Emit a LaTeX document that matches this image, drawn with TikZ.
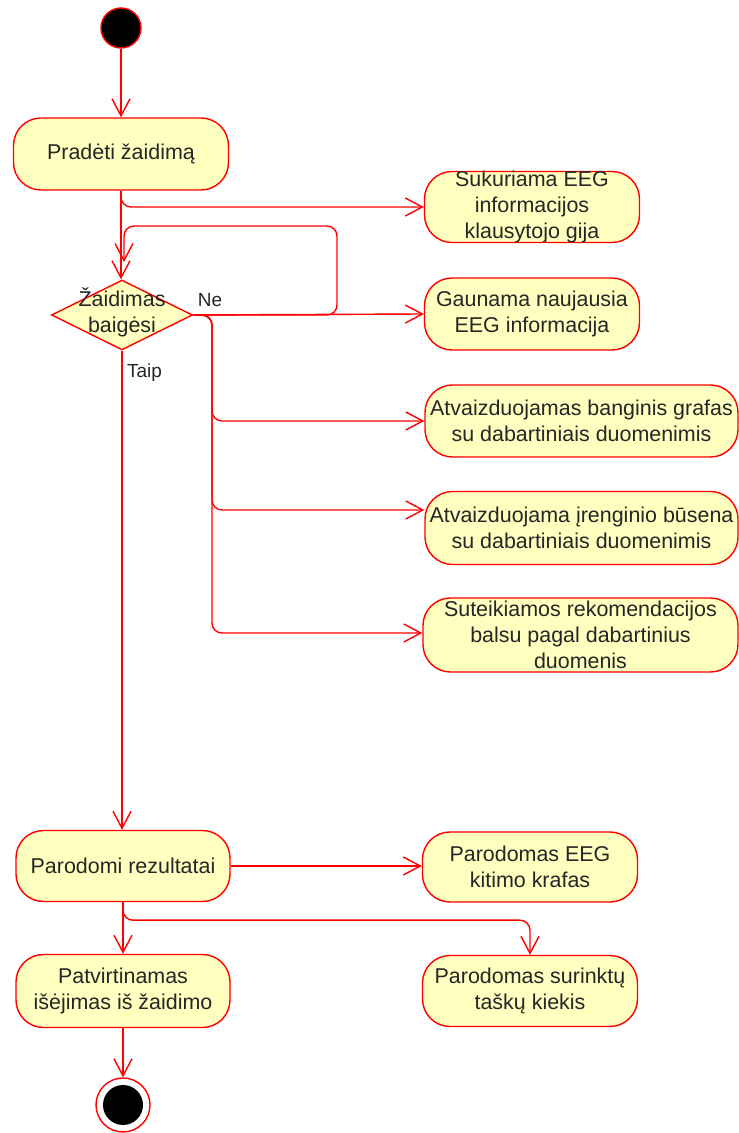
\documentclass[tikz,border=0pt]{standalone}
\usepackage{fontspec}
\setmainfont{Liberation Sans}
\usetikzlibrary{shapes.geometric,calc,arrows.meta,positioning}
\definecolor{actfill}{HTML}{FFFFC0}
\definecolor{umlred}{HTML}{FF0000}
\definecolor{umltext}{HTML}{262626}

\begin{document}
\begin{tikzpicture}[x=1cm,y=1cm, every node/.style={font=\fontsize{12.2}{14.8}\selectfont, text=umltext},
    act/.style={draw=umlred, line width=0.8pt, fill=actfill, rounded corners=0.55cm, align=center, inner xsep=1pt, minimum height=1.44cm},
    flow/.style={draw=umlred, line width=0.8pt, -{Straight Barb[length=0.34cm, width=0.36cm]}},
    lbl/.style={font=\fontsize{10.8}{12}\selectfont}]
    \useasboundingbox (0,0) rectangle (14.78,22.66);
    % start and first action
    \node[circle, draw=umlred, line width=0.8pt, fill=black, minimum size=0.8cm] (start) at (2.42,22.10) {};
    \node[act, minimum width=4.3cm] (pradeti) at (2.42,19.58) {Pradėti žaidimą};
    \node[act, minimum width=4.3cm, minimum height=1.42cm, inner ysep=-2pt] (sukuriama) at (10.64,18.52) {Sukuriama EEG\\informacijos\\klausytojo gija};
    % decision
    \node[diamond, draw=umlred, line width=0.8pt, fill=actfill, inner sep=0pt, minimum width=2.82cm, minimum height=1.4cm] (zaid) at (2.44,16.36) {};
    \node[align=center] (zaidtxt) at (2.44,16.42) {Žaidimas\\baigėsi};
    \node[lbl] (ne) at (4.2,16.66) {Ne};
    \node[lbl] (taip) at (2.89,15.2) {Taip};
    \coordinate (loopend) at (2.48,17.42);
    % actions while playing
    \node[act, minimum width=4.3cm] (gaunama) at (10.64,16.38) {Gaunama naujausia\\EEG informacija};
    \node[act, minimum width=6.26cm] (banginis) at (11.63,14.24) {Atvaizduojamas banginis grafas\\su dabartiniais duomenimis};
    \node[act, minimum width=6.26cm, minimum height=1.46cm] (irenginio) at (11.63,12.10) {Atvaizduojama įrenginio būsena\\su dabartiniais duomenimis};
    \node[act, minimum width=6.3cm, minimum height=1.48cm, inner ysep=-2pt] (suteikiamos) at (11.61,9.96) {Suteikiamos rekomendacijos\\balsu pagal dabartinius\\duomenis};
    % end of game
    \node[act, minimum width=4.28cm, minimum height=1.42cm] (rezult) at (2.46,5.34) {Parodomi rezultatai};
    \node[act, minimum width=4.3cm, minimum height=1.4cm] (eegkit) at (10.6,5.32) {Parodomas EEG\\kitimo krafas};
    \node[act, minimum width=4.28cm, minimum height=1.46cm] (patvirt) at (2.46,2.84) {Patvirtinamas\\išėjimas iš žaidimo};
    \node[act, minimum width=4.3cm, minimum height=1.42cm] (surinktu) at (10.6,2.84) {Parodomas surinktų\\taškų kiekis};
    \node[circle, draw=umlred, line width=0.8pt, fill=white, minimum size=1.08cm] (finish) at (2.46,0.56) {};
    \node[circle, fill=black, inner sep=0pt, minimum size=0.8cm] (finishdot) at (finish) {};

    \draw[flow] (start) -- (pradeti);
    \draw[flow, rounded corners=0.2cm] (pradeti.south) |- (sukuriama.west);
    \draw[flow] (pradeti.south) -- (pradeti.south |- zaid.north);
    \draw[flow, rounded corners=0.2cm] (zaid.east) -| (6.74,18.14) -| (loopend);
    \draw[flow] (zaid.east) -- (gaunama.west);
    \draw[flow, rounded corners=0.2cm] (zaid.east) -| (4.24,14.24) -- (banginis.west);
    \draw[flow, rounded corners=0.2cm] (zaid.east) -| (4.24,12.46) -- ([yshift=0.36cm]irenginio.west);
    \draw[flow, rounded corners=0.2cm] (zaid.east) -| (4.24,10.0) -- ([yshift=0.04cm]suteikiamos.west);
    \draw[flow] (zaid.south) -- (zaid.south |- rezult.north);
    \draw[flow] (rezult.east) -- (rezult.east -| eegkit.west);
    \draw[flow, rounded corners=0.2cm] (rezult.south) -- ++(0,-0.36) -| (surinktu.north);
    \draw[flow] (rezult) -- (patvirt);
    \draw[flow] (patvirt) -- (finish);
\end{tikzpicture}
\end{document}
